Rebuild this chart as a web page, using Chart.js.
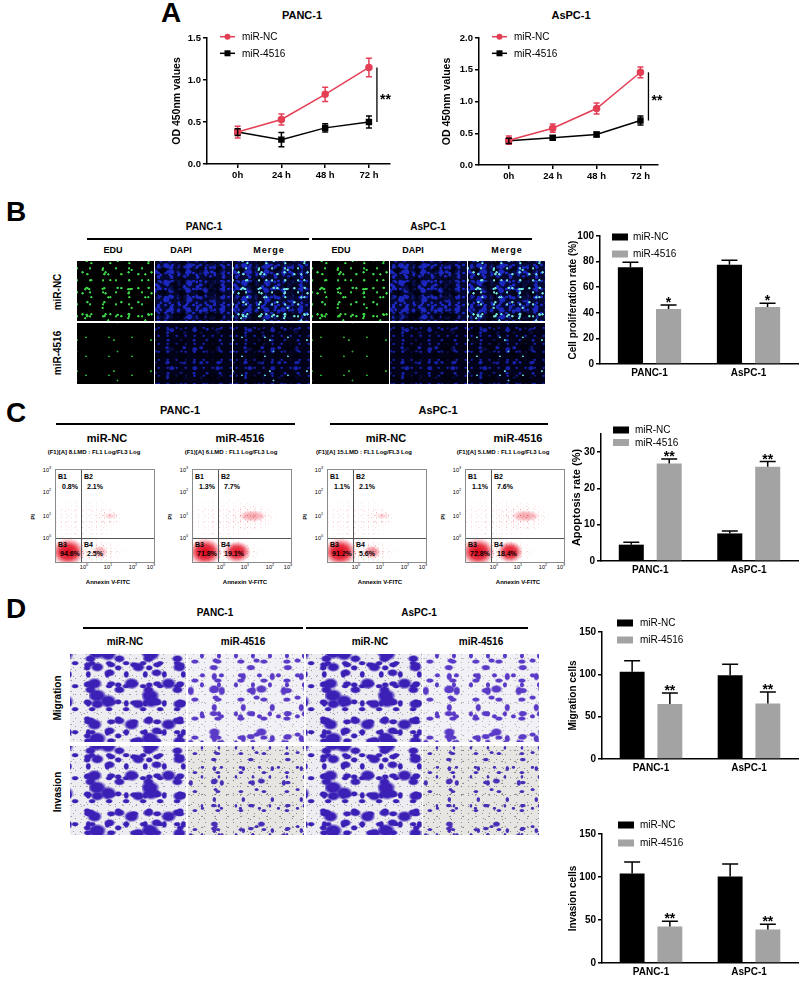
<!DOCTYPE html>
<html lang="en">
<head>
<meta charset="UTF-8">
<meta name="viewport" content="width=device-width, initial-scale=1.0">
<title>miR-4516 in PANC-1 and AsPC-1 cells</title>
<script src="https://cdn.jsdelivr.net/npm/chart.js"></script>
<style>
  body { margin: 0; background: #fff; }
  #page { position: relative; width: 802px; height: 982px; overflow: hidden; background: #fff;
          font-family: "Liberation Sans", Arial, sans-serif; color: #000; }
  .t { position: absolute; white-space: nowrap; font-weight: bold; transform: translate(-50%, -50%); line-height: 1; }
  .rule { position: absolute; background: #000; }
  .cell { position: absolute; overflow: hidden; }
  .facs { position: absolute; background: #fff; border: 1px solid #8a8a8a; box-sizing: border-box; overflow: hidden; }
  .q { position: absolute; font-weight: bold; font-size: 7px; line-height: 1; white-space: nowrap; }
  .t sup { font-size: 70%; vertical-align: top; position: relative; top: -1px; }
</style>
</head>
<body>
<div id="page"></div>
<script>
// ---- data ----
const timeLabels = ['0h', '24 h', '48 h', '72 h'];
const seriesNames = ['miR-NC', 'miR-4516'];
const cellLines = ['PANC-1', 'AsPC-1'];

// A: CCK-8, OD 450nm
const odPancNC = [0.38, 0.53, 0.83, 1.15];
const odPancNCErr = [0.07, 0.065, 0.085, 0.11];
const odPanc4516 = [0.38, 0.29, 0.43, 0.50];
const odPanc4516Err = [0.04, 0.085, 0.05, 0.07];
const odAspcNC = [0.39, 0.58, 0.89, 1.46];
const odAspcNCErr = [0.065, 0.065, 0.085, 0.085];
const odAspc4516 = [0.38, 0.43, 0.48, 0.70];
const odAspc4516Err = [0.04, 0.03, 0.035, 0.07];

// B: EdU cell proliferation rate (%)
const prolifNC = [75.5, 77.5];
const prolifNCErr = [4, 3.6];
const prolif4516 = [43, 44.5];
const prolif4516Err = [3, 3];
const prolifSig = ['*', '*'];

// C: apoptosis rate (%) and flow quadrants B1, B2, B3, B4
const apopNC = [4.5, 7.6];
const apopNCErr = [0.7, 0.7];
const apop4516 = [26.9, 26.0];
const apop4516Err = [1.2, 1.4];
const apopSig = ['**', '**'];
const facsQuadrants = [
  [0.8, 2.1, 94.6, 2.5],
  [1.3, 7.7, 71.8, 19.1],
  [1.1, 2.1, 91.2, 5.6],
  [1.1, 7.6, 72.8, 18.4]
];
const facsFiles = ['8.LMD', '6.LMD', '15.LMD', '5.LMD'];

// D: transwell
const migNC = [103, 99];
const migNCErr = [13, 13];
const mig4516 = [65, 65.5];
const mig4516Err = [13, 13.5];
const migSig = ['**', '**'];
const invNC = [104, 100.5];
const invNCErr = [13.5, 14.5];
const inv4516 = [42.5, 39];
const inv4516Err = [6, 6];
const invSig = ['**', '**'];

const RED = '#e43f55', BLACK = '#000000', GRAY = '#a3a3a3';
const FAMILY = '"Liberation Sans", Arial, sans-serif';
Chart.defaults.font.family = FAMILY;
Chart.defaults.color = '#000';

const page = document.getElementById('page');

function label(html, x, y, size, extra) {
  const d = document.createElement('div');
  d.className = 't';
  d.innerHTML = html;
  d.style.left = x + 'px';
  d.style.top = y + 'px';
  d.style.fontSize = size + 'px';
  if (extra) Object.assign(d.style, extra);
  page.appendChild(d);
  return d;
}
function vlabel(html, x, y, size) {
  return label(html, x, y, size, { transform: 'translate(-50%, -50%) rotate(-90deg)' });
}
function rule(x1, x2, y, w) {
  const d = document.createElement('div');
  d.className = 'rule';
  d.style.cssText += `left:${x1}px;top:${y - w / 2}px;width:${x2 - x1}px;height:${w}px`;
  page.appendChild(d);
}

// ---- chart plugins ----
const errorBars = {
  id: 'errorBars',
  afterDatasetsDraw(chart, args, o) {
    const ctx = chart.ctx, ys = chart.scales.y;
    chart.data.datasets.forEach((ds, di) => {
      if (!ds.errors) return;
      const meta = chart.getDatasetMeta(di);
      meta.data.forEach((el, i) => {
        const raw = ds.data[i];
        const v = typeof raw === 'object' ? raw.y : raw;
        const top = ys.getPixelForValue(v + ds.errors[i]);
        const bot = o.both ? ys.getPixelForValue(v - ds.errors[i]) : el.y;
        ctx.save();
        ctx.strokeStyle = ds.errorColor || ds.borderColor;
        ctx.lineWidth = 1.5;
        ctx.beginPath();
        ctx.moveTo(el.x, top); ctx.lineTo(el.x, bot);
        ctx.moveTo(el.x - o.cap, top); ctx.lineTo(el.x + o.cap, top);
        if (o.both) { ctx.moveTo(el.x - o.cap, bot); ctx.lineTo(el.x + o.cap, bot); }
        ctx.stroke();
        if (ds.sig && ds.sig[i]) {
          ctx.fillStyle = '#000';
          ctx.font = 'bold 14px ' + FAMILY;
          ctx.textAlign = 'center';
          ctx.textBaseline = 'alphabetic';
          ctx.fillText(ds.sig[i], el.x, top + 2);
        }
        ctx.restore();
      });
    });
  }
};

const insideLegend = {
  id: 'insideLegend',
  afterDraw(chart, args, o) {
    const { ctx, chartArea } = chart;
    chart.data.datasets.forEach((ds, i) => {
      const y = chartArea.top + o.dy + i * o.gap;
      const x = chartArea.left + o.dx;
      ctx.save();
      if (o.kind === 'line') {
        ctx.strokeStyle = ds.borderColor;
        ctx.lineWidth = 1.5;
        ctx.beginPath(); ctx.moveTo(x, y); ctx.lineTo(x + o.w, y); ctx.stroke();
        ctx.fillStyle = ds.borderColor;
        const cx = x + o.w / 2;
        if (ds.pointStyle === 'rect') ctx.fillRect(cx - 3, y - 3, 6, 6);
        else { ctx.beginPath(); ctx.arc(cx, y, 3, 0, Math.PI * 2); ctx.fill(); }
      } else {
        ctx.fillStyle = ds.backgroundColor;
        ctx.fillRect(x, y - 3.5, o.w, 7);
      }
      ctx.fillStyle = '#000';
      ctx.font = o.size + 'px ' + FAMILY;
      ctx.textAlign = 'left';
      ctx.textBaseline = 'middle';
      ctx.fillText(ds.label, chartArea.left + o.tx, y + 0.5);
      ctx.restore();
    });
  }
};

const sigBracket = {
  id: 'sigBracket',
  afterDraw(chart, args, o) {
    const { ctx } = chart, xs = chart.scales.x, ys = chart.scales.y;
    const [a, b] = chart.data.datasets;
    const last = a.data.length - 1;
    const x = xs.getPixelForValue(last) + o.dx;
    const y1 = ys.getPixelForValue(a.data[last].y);
    const y2 = ys.getPixelForValue(b.data[last].y);
    ctx.save();
    ctx.strokeStyle = '#000';
    ctx.lineWidth = 1.3;
    ctx.beginPath(); ctx.moveTo(x, y1); ctx.lineTo(x, y2); ctx.stroke();
    ctx.fillStyle = '#000';
    ctx.font = 'bold 14px ' + FAMILY;
    ctx.textAlign = 'left';
    ctx.textBaseline = 'alphabetic';
    ctx.fillText(o.text, x + 3, (y1 + y2) / 2 + 9);
    ctx.restore();
  }
};

// ---- chart placement: box is the canvas, area is the plot rectangle on the page ----
function place(box) {
  const c = document.createElement('canvas');
  c.width = box.w; c.height = box.h;
  c.style.cssText = `position:absolute;left:${box.x}px;top:${box.y}px;width:${box.w}px;height:${box.h}px`;
  page.appendChild(c);
  return c;
}
function pinScales(box, area, titleX, titleLine, x, y) {
  const padL = titleX - box.x - titleLine / 2;
  x.afterFit = s => { s.height = box.y + box.h - area.b; };
  y.afterFit = s => { s.width = area.l - box.x - padL; };
  return { left: padL, top: area.t - box.y, right: box.x + box.w - area.r, bottom: 0 };
}
const axisGrid = { drawOnChartArea: false, drawTicks: true, tickLength: 4, color: '#000', lineWidth: 1.5 };
const axisBorder = { color: '#000', width: 1.5 };

function lineChart(box, area, titleX, ncVals, ncErr, kdVals, kdErr, yMax, xMin, xMax) {
  const canvas = place(box);
  const x = {
    type: 'linear', min: xMin, max: xMax,
    afterBuildTicks: s => { s.ticks = timeLabels.map((_, i) => ({ value: i })); },
    ticks: { callback: v => timeLabels[v], font: { size: 9.5, weight: 'bold' }, color: '#000', padding: 2, maxRotation: 0, autoSkip: false },
    grid: axisGrid, border: axisBorder
  };
  const y = {
    min: 0, max: yMax,
    ticks: { stepSize: 0.5, callback: v => v.toFixed(1), font: { size: 9.5, weight: 'bold' }, color: '#000', padding: 2 },
    grid: axisGrid, border: axisBorder,
    title: { display: true, text: 'OD 450nm values', font: { size: 10.5, weight: 'bold', lineHeight: 1.2 }, color: '#000', padding: 0 }
  };
  const padding = pinScales(box, area, titleX, 10.5 * 1.2, x, y);
  new Chart(canvas, {
    type: 'line',
    data: {
      datasets: [
        { label: seriesNames[0], data: ncVals.map((v, i) => ({ x: i, y: v })), errors: ncErr,
          borderColor: RED, backgroundColor: RED, pointStyle: 'circle', pointRadius: 3, borderWidth: 1.5 },
        { label: seriesNames[1], data: kdVals.map((v, i) => ({ x: i, y: v })), errors: kdErr,
          borderColor: BLACK, backgroundColor: BLACK, pointStyle: 'rect', pointRadius: 3.5, borderWidth: 1.5 }
      ]
    },
    options: {
      responsive: false, animation: false,
      layout: { padding },
      scales: { x, y },
      plugins: {
        legend: { display: false }, tooltip: { enabled: false },
        errorBars: { both: true, cap: 3 },
        insideLegend: { kind: 'line', dx: 13, w: 15, tx: 35, dy: -1.3, gap: 16.6, size: 10 },
        sigBracket: { dx: 8, text: '**' }
      }
    },
    plugins: [errorBars, insideLegend, sigBracket]
  });
}

function barChart(box, area, titleX, title, titleSize, ncVals, ncErr, kdVals, kdErr, sig, yMax, step, topTick, leg) {
  const canvas = place(box);
  const x = {
    type: 'category', labels: cellLines, offset: true,
    ticks: { font: { size: 10, weight: 'bold' }, color: '#000', padding: 3, maxRotation: 0 },
    grid: { display: false, drawTicks: false, tickLength: 0 }, border: axisBorder
  };
  const y = {
    min: 0, max: yMax,
    afterBuildTicks: s => { s.ticks = s.ticks.filter(t => t.value <= topTick); },
    ticks: { stepSize: step, font: { size: 10, weight: 'bold' }, color: '#000', padding: 2 },
    grid: axisGrid, border: axisBorder,
    title: { display: true, text: title, font: { size: titleSize, weight: 'bold', lineHeight: 1.2 }, color: '#000', padding: 0 }
  };
  const padding = pinScales(box, area, titleX, titleSize * 1.2, x, y);
  new Chart(canvas, {
    type: 'bar',
    data: {
      labels: cellLines,
      datasets: [
        { label: seriesNames[0], data: ncVals, errors: ncErr, errorColor: '#000',
          backgroundColor: BLACK, borderColor: BLACK, categoryPercentage: 0.77, barPercentage: 0.66 },
        { label: seriesNames[1], data: kdVals, errors: kdErr, errorColor: '#000', sig: sig,
          backgroundColor: GRAY, borderColor: GRAY, categoryPercentage: 0.77, barPercentage: 0.66 }
      ]
    },
    options: {
      responsive: false, animation: false,
      layout: { padding },
      scales: { x, y },
      plugins: {
        legend: { display: false }, tooltip: { enabled: false },
        errorBars: { both: false, cap: 8 },
        insideLegend: Object.assign({ kind: 'bar', w: 16, size: 10 }, leg)
      }
    },
    plugins: [errorBars, insideLegend]
  });
}

// ---- textures for the photo panels (tile sizes are primes so the layers do not line up) ----
function layered(el, base, layers) {
  el.style.backgroundColor = base;
  el.style.backgroundImage = layers.map(l => l[0]).join(',');
  el.style.backgroundSize = layers.map(l => l[1]).join(',');
  el.style.backgroundPosition = layers.map(l => l[2]).join(',');
}
// spec: [tileW, tileH, offX, offY, at%X, at%Y, rx, ry]
function spots(color, scale, specs) {
  return specs.map(([w, h, px, py, ax, ay, rx, ry]) => [
    `radial-gradient(ellipse ${rx * scale}px ${ry * scale}px at ${ax}% ${ay}%, ${color} 0 60%, rgba(0,0,0,0) 100%)`,
    `${w}px ${h}px`, `${px}px ${py}px`]);
}
const greenDense = [
  [13, 12, 4, 5, 70, 20, 1.4, 1.4], [17, 14, 7, 2, 20, 80, 1.5, 1.5], [19, 17, 3, 9, 60, 60, 1.4, 1.4],
  [23, 21, 9, 4, 85, 35, 1.5, 1.5], [29, 19, 14, 6, 40, 15, 1.4, 1.4], [31, 27, 5, 12, 15, 55, 1.5, 1.5],
  [37, 23, 11, 3, 55, 45, 1.4, 1.4], [41, 37, 2, 17, 25, 30, 1.5, 1.5], [43, 29, 19, 8, 75, 70, 1.4, 1.4]];
const greenSparse = [
  [23, 19, 2, 3, 30, 60, 1.2, 1.2], [37, 31, 11, 8, 70, 30, 1.3, 1.3], [41, 29, 20, 14, 50, 50, 1.2, 1.2]];
const blueDense = [
  [7, 8, 0, 0, 50, 50, 1.8, 1.6], [9, 7, 3, 2, 30, 70, 1.6, 1.9], [11, 13, 5, 7, 70, 30, 2.4, 2.0],
  [13, 10, 1, 4, 20, 20, 2.2, 2.5], [17, 19, 6, 3, 60, 40, 3.5, 3.0], [23, 17, 2, 9, 40, 75, 4.0, 3.2]];
const blueSparse = [
  [9, 8, 0, 0, 40, 60, 1.5, 1.4], [13, 11, 4, 3, 70, 30, 2.0, 1.7], [17, 15, 8, 6, 25, 25, 2.4, 2.0],
  [23, 19, 3, 11, 60, 80, 3.0, 2.5]];
const darkHoles = [[19, 23, 0, 0, 40, 40, 5, 4], [29, 17, 7, 9, 70, 60, 6, 4], [37, 31, 13, 4, 20, 70, 8, 6]];

function dapi(dense) {
  return [].concat(
    spots('rgba(0,0,12,0.7)', 1, darkHoles),
    spots(dense ? '#1b27c0' : '#1720a8', 1, dense ? blueDense : blueSparse)
  );
}
function fluoCell(x, y, w, h, kind, dense) {
  const d = document.createElement('div');
  d.className = 'cell';
  d.style.cssText += `left:${x}px;top:${y}px;width:${w}px;height:${h}px`;
  const tiles = dense ? greenDense : greenSparse;
  const base = dense ? '#050830' : '#02031a';
  if (kind === 'EDU') layered(d, '#000', spots(dense ? '#3bd447' : '#2aa835', 1, tiles));
  else if (kind === 'DAPI') layered(d, base, dapi(dense));
  else layered(d, base, spots(dense ? '#6fe3dc' : '#5ccbd8', 1, tiles).concat(dapi(dense)));
  page.appendChild(d);
}

const cvDenseTiles = [
  [17, 23, 0, 0, 30, 40, 4, 2.5], [19, 29, 5, 3, 70, 60, 3, 4], [23, 19, 9, 7, 40, 20, 5, 3],
  [29, 31, 3, 11, 60, 80, 6, 4], [31, 17, 11, 2, 20, 70, 4, 3], [37, 41, 6, 9, 50, 50, 8, 6],
  [41, 37, 15, 2, 30, 30, 7, 5], [43, 47, 8, 19, 70, 60, 9, 7], [47, 29, 2, 13, 80, 20, 6, 4],
  [53, 43, 19, 5, 15, 85, 10, 7]];
const cvLightTiles = [
  [23, 19, 0, 0, 30, 40, 3.5, 2], [29, 31, 6, 4, 70, 60, 2.5, 3.5], [37, 23, 11, 9, 40, 20, 4, 2.5],
  [41, 37, 3, 14, 60, 80, 3, 2], [47, 43, 17, 5, 20, 70, 5, 3.5], [31, 53, 9, 21, 80, 30, 3, 4],
  [19, 41, 4, 7, 55, 35, 2.5, 2], [17, 29, 8, 12, 35, 65, 2, 2.5]];
const cvSpeck = [
  [7, 9, 0, 0, 50, 50, 0.7, 0.7], [11, 8, 2, 3, 30, 70, 0.7, 0.7], [13, 11, 5, 1, 70, 30, 0.8, 0.8],
  [17, 13, 8, 6, 20, 20, 0.8, 0.8]];
function cvCell(x, y, w, h, dense, invasion) {
  const d = document.createElement('div');
  d.className = 'cell';
  d.style.cssText += `left:${x}px;top:${y}px;width:${w}px;height:${h}px`;
  if (dense) {
    layered(d, '#ececf1', [].concat(
      spots('#3c20b6', 1, cvDenseTiles),
      spots('rgba(110,108,125,0.6)', 1, cvSpeck)));
  } else if (!invasion) {
    layered(d, '#f1f0f5', [].concat(
      spots('#5a3ac6', 1.25, cvLightTiles),
      spots('rgba(120,118,135,0.5)', 1, cvSpeck)));
  } else {
    layered(d, '#e7e5e2', [].concat(
      spots('#4a2fb6', 0.85, cvLightTiles),
      spots('rgba(95,90,100,0.65)', 1.2, cvSpeck)));
  }
  page.appendChild(d);
}

// ---- panel A ----
label('A', 171, 13, 28);
label(cellLines[0], 302, 15, 11);
label(cellLines[1], 571, 15, 11);
lineChart({ x: 160, y: 0, w: 235, h: 190 }, { l: 207, t: 38, r: 390, b: 164 }, 177,
  odPancNC, odPancNCErr, odPanc4516, odPanc4516Err, 1.5, -0.7, 3.47);
lineChart({ x: 430, y: 0, w: 235, h: 190 }, { l: 479, t: 38, r: 658, b: 165 }, 447,
  odAspcNC, odAspcNCErr, odAspc4516, odAspc4516Err, 2.0, -0.68, 3.4);

// ---- panel B ----
label('B', 16, 212, 28);
label(cellLines[0], 204, 227, 10);
label(cellLines[1], 428, 227, 10);
rule(87, 309, 239, 1.5);
rule(312, 532, 239, 1.5);
[['EDU', 113], ['DAPI', 181], ['Merge', 269], ['EDU', 341], ['DAPI', 413], ['Merge', 507]].forEach(([t, x]) =>
  label(t, x, 250, 9, t === 'Merge' ? { letterSpacing: '1px' } : null));
vlabel(seriesNames[0], 58, 292, 10);
vlabel(seriesNames[1], 58, 353, 10);
const fluoKinds = ['EDU', 'DAPI', 'Merge', 'EDU', 'DAPI', 'Merge'];
fluoKinds.forEach((k, i) => {
  const x = 77 + i * 78.2;
  fluoCell(x, 261, 77, 60, k, true);
  fluoCell(x, 323, 77, 61, k, false);
});
barChart({ x: 548, y: 220, w: 254, h: 170 }, { l: 600, t: 236, r: 798, b: 364 }, 573,
  'Cell proliferation rate (%)', 10, prolifNC, prolifNCErr, prolif4516, prolif4516Err, prolifSig, 100, 20, 100,
  { dx: 12, tx: 33, dy: 1, gap: 17 });

// ---- panel C ----
label('C', 16, 413, 28);
label(cellLines[0], 180, 410, 11);
label(cellLines[1], 438, 410, 11);
rule(56, 295, 424, 2);
rule(330, 548, 424, 2);
const facsLefts = [55, 192, 327, 465];
const facsTitles = [seriesNames[0], seriesNames[1], seriesNames[0], seriesNames[1]];
const facsTitleX = [107, 240, 386, 518];
const facsFileX = [94, 231, 364, 503];

function blob(parent, cx, cy, rx, ry, a, core) {
  const d = document.createElement('div');
  d.style.cssText = `position:absolute;left:${cx - rx}px;top:${cy - ry}px;width:${2 * rx}px;height:${2 * ry}px;` +
    `background:radial-gradient(closest-side, ${core || 'rgba(222,0,20,' + a + ')'} 0%, rgba(228,20,40,${a * 0.85}) 50%, rgba(238,80,95,${a * 0.35}) 82%, rgba(255,255,255,0) 100%)`;
  parent.appendChild(d);
}
const facsSpeck = [[5, 4, 0, 0, 50, 50, 0.6, 0.6], [7, 6, 2, 3, 20, 70, 0.6, 0.6], [9, 11, 5, 1, 80, 30, 0.6, 0.6]];
function speckle(parent, cx, cy, rx, ry, a) {
  const d = document.createElement('div');
  const mask = 'radial-gradient(closest-side, #000 0%, rgba(0,0,0,0.6) 60%, rgba(0,0,0,0) 100%)';
  d.style.cssText = `position:absolute;left:${cx - rx}px;top:${cy - ry}px;width:${2 * rx}px;height:${2 * ry}px;` +
    `-webkit-mask-image:${mask};mask-image:${mask};`;
  layered(d, 'transparent', spots(`rgba(230,50,65,${a})`, 1, facsSpeck));
  parent.appendChild(d);
}
function quad(parent, html, x, y) {
  const d = document.createElement('div');
  d.className = 'q';
  d.innerHTML = html;
  d.style.left = x + 'px';
  d.style.top = y + 'px';
  parent.appendChild(d);
}
facsLefts.forEach((left, p) => {
  const top = 469, w = 100, h = 94;
  const q = facsQuadrants[p];
  label(facsTitles[p], facsTitleX[p], 438, 11);
  label(`(F1)[A] ${facsFiles[p]} : FL1 Log/FL3 Log`, facsFileX[p], 452, 6);
  const box = document.createElement('div');
  box.className = 'facs';
  box.style.cssText += `left:${left}px;top:${top}px;width:${w}px;height:${h}px`;
  page.appendChild(box);
  speckle(box, 28, 50, 40, 24, 0.3);
  speckle(box, 50 + q[1], 47, 12 + q[1] * 2, 7 + q[1], 0.55);
  speckle(box, 30, 82, 42, 14, 0.6);
  blob(box, 52 + q[1], 46, 5 + q[1] * 1.2, 2 + q[1] * 0.5, Math.min(0.35, 0.08 + q[1] / 25));
  blob(box, 44, 82, 7 + q[3] * 0.35, 6 + q[3] * 0.25, Math.min(0.95, 0.2 + q[3] / 20));
  blob(box, 12, 82, 17, 14, 1, '#d80012');
  const vl = document.createElement('div');
  vl.style.cssText = 'position:absolute;left:25px;top:0;width:1px;height:100%;background:#555';
  const hl = document.createElement('div');
  hl.style.cssText = 'position:absolute;left:0;top:68px;width:100%;height:1px;background:#555';
  box.appendChild(vl); box.appendChild(hl);
  quad(box, 'B1', 2, 3); quad(box, q[0].toFixed(1) + '%', 6, 13);
  quad(box, 'B2', 28, 3); quad(box, q[1].toFixed(1) + '%', 31, 13);
  quad(box, 'B3', 2, 71); quad(box, q[2].toFixed(1) + '%', 4, 80);
  quad(box, 'B4', 28, 71); quad(box, q[3].toFixed(1) + '%', 31, 80);
  ['3', '2', '1', '0'].forEach((e, i) => label(`10<sup>${e}</sup>`, left - 8, top + 2 + [0, 22, 46, 68][i], 5.5, { fontWeight: 'normal' }));
  ['0', '1', '2', '3'].forEach((e, i) => label(`10<sup>${e}</sup>`, left + [29, 53, 78, 96][i], top + 99, 5.5, { fontWeight: 'normal' }));
  vlabel('PI', left - 22, top + 48, 6);
  label('Annexin V-FITC', left + 53, 582, 6);
});
barChart({ x: 548, y: 420, w: 254, h: 165 }, { l: 601, t: 434, r: 798, b: 561 }, 577,
  'Apoptosis rate (%)', 11, apopNC, apopNCErr, apop4516, apop4516Err, apopSig, 35, 10, 30,
  { dx: 12, tx: 34, dy: -4, gap: 12.5 });

// ---- panel D ----
label('D', 16, 609, 28);
label(cellLines[0], 215, 613, 10);
label(cellLines[1], 419, 613, 10);
rule(83, 303, 628, 1.5);
rule(306, 528, 628, 1.5);
[[seriesNames[0], 125], [seriesNames[1], 243], [seriesNames[0], 370], [seriesNames[1], 481]].forEach(([t, x]) => label(t, x, 642, 10));
vlabel('Migration', 58, 698, 10);
vlabel('Invasion', 58, 792, 10);
[70, 188, 306, 423].forEach((x, i) => {
  const dense = i % 2 === 0;
  cvCell(x, 654, 116, 88, dense, false);
  cvCell(x, 746, 116, 89, dense, true);
});
barChart({ x: 548, y: 612, w: 254, h: 172 }, { l: 602, t: 632, r: 798, b: 759 }, 573,
  'Migration cells', 10, migNC, migNCErr, mig4516, mig4516Err, migSig, 150, 50, 150,
  { dx: 15, tx: 38, dy: -9, gap: 17 });
barChart({ x: 548, y: 812, w: 254, h: 170 }, { l: 602, t: 834, r: 798, b: 963 }, 573,
  'Invasion cells', 10, invNC, invNCErr, inv4516, inv4516Err, invSig, 150, 50, 150,
  { dx: 16, tx: 38, dy: -9, gap: 18 });
</script>
</body>
</html>
